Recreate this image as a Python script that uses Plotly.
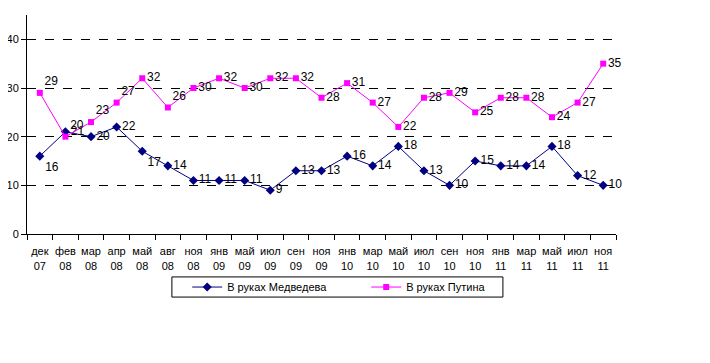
import plotly.graph_objects as go

months = ["дек<br>07", "фев<br>08", "мар<br>08", "апр<br>08", "май<br>08", "авг<br>08", "ноя<br>08",
          "янв<br>09", "май<br>09", "июл<br>09", "сен<br>09", "ноя<br>09", "янв<br>10", "мар<br>10",
          "май<br>10", "июл<br>10", "сен<br>10", "ноя<br>10", "янв<br>11", "мар<br>11", "май<br>11",
          "июл<br>11", "ноя<br>11"]
medvedev = [16, 21, 20, 22, 17, 14, 11, 11, 11, 9, 13, 13, 16, 14, 18, 13, 10, 15, 14, 14, 18, 12, 10]
putin = [29, 20, 23, 27, 32, 26, 30, 32, 30, 32, 32, 28, 31, 27, 22, 28, 29, 25, 28, 28, 24, 27, 35]

med_pos = ["middle right"] * len(medvedev)
med_pos[0] = "bottom right"
med_pos[4] = "bottom right"
put_pos = ["middle right"] * len(putin)
for i in (0, 1, 2, 3, 5):
    put_pos[i] = "top right"

FONT = "Arial, Liberation Sans, sans-serif"

fig = go.Figure()
fig.add_trace(go.Scatter(
    x=months, y=medvedev, name="В руках Медведева", mode="lines+markers+text",
    line=dict(color="#000080", width=1),
    marker=dict(symbol="diamond", size=7, color="#000080"),
    text=[str(v) for v in medvedev], textposition=med_pos,
    textfont=dict(family=FONT, size=12, color="black"), cliponaxis=False,
))
fig.add_trace(go.Scatter(
    x=months, y=putin, name="В руках Путина", mode="lines+markers+text",
    line=dict(color="#FF00FF", width=1),
    marker=dict(symbol="square", size=6, color="#FF00FF"),
    text=[str(v) for v in putin], textposition=put_pos,
    textfont=dict(family=FONT, size=12, color="black"), cliponaxis=False,
))

fig.update_layout(
    width=710, height=363,
    margin=dict(l=19, r=102, t=7, b=137, autoexpand=False),
    paper_bgcolor="white", plot_bgcolor="white",
    font=dict(family=FONT, size=11, color="black"),
    showlegend=True,
    legend=dict(
        orientation="h", x=0.272, y=-0.176, xanchor="left", yanchor="top",
        borderwidth=0, bgcolor="rgba(0,0,0,0)", font=dict(family=FONT, size=11),
        entrywidth=134, entrywidthmode="pixels", itemwidth=30,
        tracegroupgap=0,
    ),
    shapes=[dict(type="rect", xref="paper", yref="paper",
                 x0=0.246, x1=0.808, y0=-0.288, y1=-0.196,
                 line=dict(color="black", width=1), fillcolor="rgba(0,0,0,0)")],
    xaxis=dict(
        type="category", range=[-0.5, 22.5], showline=True, linecolor="black", linewidth=1,
        ticks="outside", tickson="boundaries", ticklen=5, tickcolor="black",
        showgrid=False, tickfont=dict(family=FONT, size=11), tickangle=0,
        ticklabelstandoff=7, automargin=False, fixedrange=True,
    ),
    yaxis=dict(
        range=[0, 45], tickvals=[0, 10, 20, 30, 40], showline=True, linecolor="black", linewidth=1,
        ticks="outside", ticklen=5, tickcolor="black",
        showgrid=True, gridcolor="black", gridwidth=1, griddash="dash", zeroline=False,
        tickfont=dict(family=FONT, size=11), automargin=False, fixedrange=True,
    ),
)

fig.write_html("out.html")
